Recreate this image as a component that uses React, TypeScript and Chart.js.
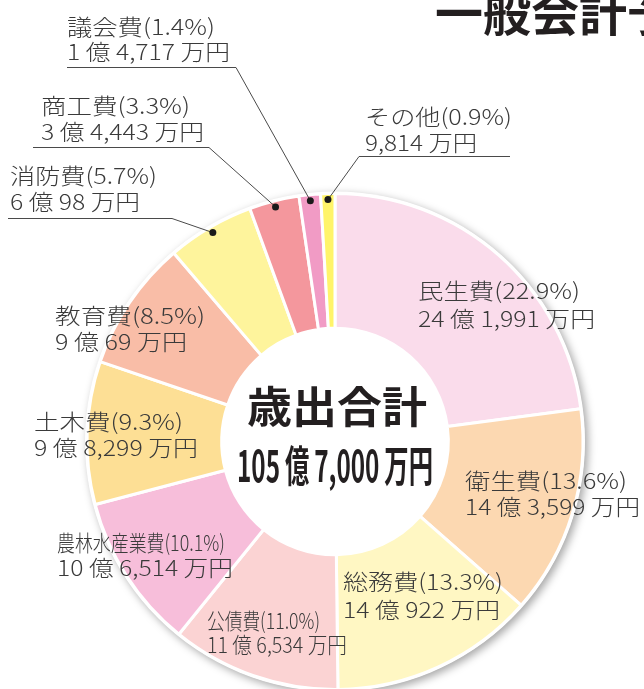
import React, { useEffect, useRef } from "react";
import { Chart, registerables } from "chart.js";

Chart.register(...registerables);

// ---- data ----
const categories = [
  "民生費",
  "衛生費",
  "総務費",
  "公債費",
  "農林水産業費",
  "土木費",
  "教育費",
  "消防費",
  "商工費",
  "議会費",
  "その他",
];
// amounts in 万円
const amounts = [241991, 143599, 140922, 116534, 106514, 98299, 90069, 60098, 34443, 14717, 9814];
const sliceColors = [
  "#FADCEB",
  "#FCD8B1",
  "#FFF7C3",
  "#FBD3D3",
  "#F7BEDA",
  "#FDDF95",
  "#F9BDA7",
  "#FEF49C",
  "#F4979D",
  "#F19BC5",
  "#FFF46A",
];
const titleText = "一般会計予算";
const centerTitle = "歳出合計";

// ---- layout (positions only) ----
const LABELS = [
  { x: 418, y1: 291, y2: 319, w1: 162, w2: 177 },
  { x: 465, y1: 481, y2: 507, w1: 162, w2: 175 },
  { x: 343, y1: 582, y2: 610, w1: 160, w2: 157 },
  { x: 207, y1: 621, y2: 645, w1: 113, w2: 140 },
  { x: 57, y1: 543, y2: 568, w1: 168, w2: 176 },
  { x: 34, y1: 422, y2: 448, w1: 149, w2: 164 },
  { x: 55, y1: 316, y2: 342, w1: 150, w2: 132 },
  { x: 10, y1: 176, y2: 202, w1: 147, w2: 130 },
  { x: 41, y1: 106, y2: 132, w1: 149, w2: 163 },
  { x: 67, y1: 27, y2: 52, w1: 148, w2: 163 },
  { x: 365, y1: 117, y2: 143, w1: 147, w2: 112 },
];
const LEADERS: Record<number, { elbowX: number; endX: number; y: number }> = {
  7: { elbowX: 172, endX: 8, y: 218 },
  8: { elbowX: 209, endX: 33, y: 147 },
  9: { elbowX: 236, endX: 67, y: 67 },
  10: { elbowX: 359, endX: 510, y: 156 },
};

const total = amounts.reduce((a, b) => a + b, 0);

function fmtAmount(v: number): string {
  const oku = Math.floor(v / 10000);
  const man = v % 10000;
  const manStr = man.toLocaleString("en-US");
  return oku > 0 ? `${oku} 億 ${manStr} 万円` : `${manStr} 万円`;
}
function fmtPct(v: number): string {
  return ((v / total) * 100).toFixed(1);
}

const LABEL_FONT = '300 22px "Noto Sans CJK JP", "Noto Sans", sans-serif';

function drawFit(ctx: CanvasRenderingContext2D, text: string, x: number, y: number, w: number) {
  const m = ctx.measureText(text).width;
  ctx.save();
  ctx.translate(x, y);
  ctx.scale(w / m, 1);
  ctx.fillText(text, 0, 0);
  ctx.restore();
}

const overlayPlugin = {
  id: "overlay",
  beforeDatasetsDraw(chart: any) {
    const ctx: CanvasRenderingContext2D = chart.ctx;
    const arc = chart.getDatasetMeta(0).data[0];
    const { x, y, outerRadius } = arc.getProps(["x", "y", "outerRadius"], true);
    ctx.save();
    ctx.beginPath();
    ctx.arc(x, y, outerRadius + 2, 0, Math.PI * 2);
    ctx.fillStyle = "#ffffff";
    ctx.shadowColor = "rgba(0,0,0,0.35)";
    ctx.shadowBlur = 8;
    ctx.shadowOffsetX = 3;
    ctx.shadowOffsetY = 3;
    ctx.fill();
    ctx.restore();
  },
  afterDatasetsDraw(chart: any) {
    const ctx: CanvasRenderingContext2D = chart.ctx;
    const meta = chart.getDatasetMeta(0);

    // leader lines and dots
    Object.keys(LEADERS).forEach((k) => {
      const i = Number(k);
      const L = LEADERS[i];
      const arc = meta.data[i];
      const p = arc.getProps(["x", "y", "startAngle", "endAngle", "outerRadius"], true);
      const mid = (p.startAngle + p.endAngle) / 2;
      const r = p.outerRadius - 6;
      const dx = p.x + r * Math.cos(mid);
      const dy = p.y + r * Math.sin(mid);
      ctx.save();
      ctx.strokeStyle = "#4a4a4a";
      ctx.lineWidth = 1;
      ctx.beginPath();
      ctx.moveTo(dx, dy);
      ctx.lineTo(L.elbowX, L.y + 0.5);
      ctx.lineTo(L.endX, L.y + 0.5);
      ctx.stroke();
      ctx.beginPath();
      ctx.arc(dx, dy, 3.5, 0, Math.PI * 2);
      ctx.fillStyle = "#1a1a1a";
      ctx.fill();
      ctx.restore();
    });

    // labels
    ctx.save();
    ctx.fillStyle = "#3a3a3a";
    ctx.font = LABEL_FONT;
    ctx.textBaseline = "middle";
    ctx.textAlign = "left";
    categories.forEach((name, i) => {
      const L = LABELS[i];
      drawFit(ctx, `${name}(${fmtPct(amounts[i])}%)`, L.x, L.y1, L.w1);
      drawFit(ctx, fmtAmount(amounts[i]), L.x, L.y2, L.w2);
    });
    ctx.restore();

    // center text
    const c = meta.data[0].getProps(["x", "y"], true);
    ctx.save();
    ctx.fillStyle = "#231f20";
    ctx.textBaseline = "middle";
    ctx.textAlign = "left";
    ctx.font = 'bold 43px "Noto Sans CJK JP", sans-serif';
    drawFit(ctx, centerTitle, c.x - 88, c.y - 35, 180);
    ctx.font = 'bold 43px "Noto Sans CJK JP", sans-serif';
    const oku = Math.floor(total / 10000);
    const man = (total % 10000).toLocaleString("en-US");
    drawFit(ctx, `${oku}\u2009億\u2009${man}\u2009万円`, c.x - 98, c.y + 24, 196);
    ctx.restore();

    // title (cut off at the right edge)
    ctx.save();
    ctx.fillStyle = "#231f20";
    ctx.font = 'bold 48px "Noto Sans CJK JP", sans-serif';
    ctx.textBaseline = "middle";
    ctx.textAlign = "left";
    ctx.fillText(titleText, 435, 13);
    ctx.restore();
  },
};

export default function App() {
  const ref = useRef<HTMLCanvasElement | null>(null);
  useEffect(() => {
    if (!ref.current) return;
    const chart = new Chart(ref.current, {
      type: "doughnut",
      data: {
        labels: categories,
        datasets: [
          {
            data: amounts,
            backgroundColor: sliceColors,
            borderColor: "#ffffff",
            borderWidth: 3,
            clip: false as any,
          },
        ],
      },
      options: {
        animation: false,
        responsive: false,
        devicePixelRatio: 1,
        radius: 248,
        cutout: "45.7%",
        layout: { padding: { left: 26, right: 0, top: 194, bottom: 0 } },
        plugins: { legend: { display: false }, tooltip: { enabled: false } },
      } as any,
      plugins: [overlayPlugin],
    });
    return () => chart.destroy();
  }, []);
  return (
    <div style={{ position: "absolute", left: 0, top: 0, width: 644, height: 689, overflow: "hidden", background: "#fff" }}>
      <canvas ref={ref} width={644} height={689} style={{ display: "block" }} />
    </div>
  );
}
